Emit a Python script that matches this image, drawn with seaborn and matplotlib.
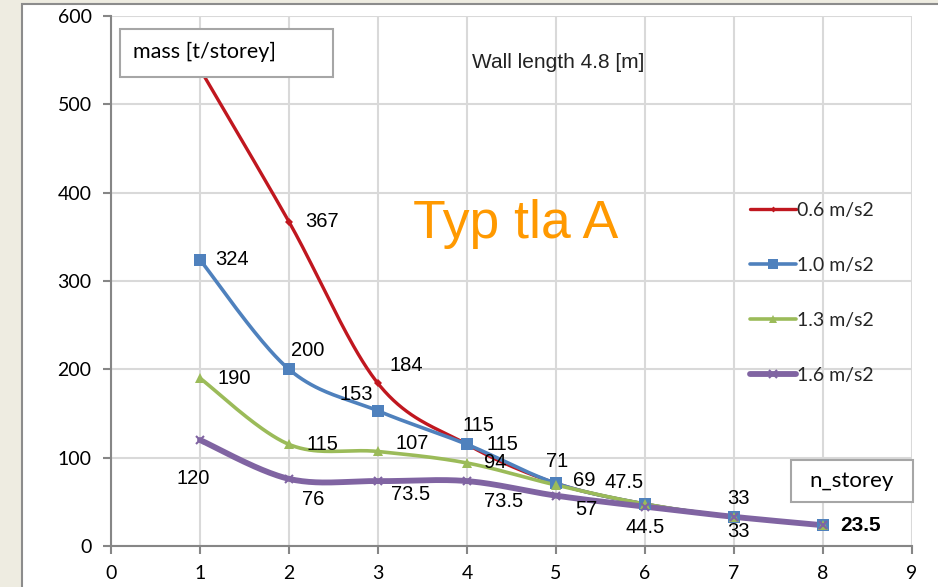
import numpy as np
import pandas as pd
import matplotlib
matplotlib.use("Agg")
import matplotlib.pyplot as plt
import seaborn as sns
from matplotlib.lines import Line2D
from matplotlib.patches import Rectangle

# ---------------- data ----------------
n_storey = [1, 2, 3, 4, 5, 6, 7, 8]
series_names = ["0.6 m/s2", "1.0 m/s2", "1.3 m/s2", "1.6 m/s2"]
mass_06 = [540, 367, 184, 115, 71, 47.5, 33, 23.5]
mass_10 = [324, 200, 153, 115, 71, 47.5, 33, 23.5]
mass_13 = [190, 115, 107, 94, 69, 47.5, 33, 23.5]
mass_16 = [120, 76, 73.5, 73.5, 57, 44.5, 33, 23.5]

# data labels: (point index, text)
labels_06 = [(1, "367"), (2, "184"), (3, "115")]
labels_10 = [(0, "324"), (1, "200"), (2, "153"), (3, "115"), (4, "71"),
             (5, "47.5"), (6, "33"), (7, "23.5")]
labels_13 = [(0, "190"), (1, "115"), (2, "107"), (3, "94"), (4, "69")]
labels_16 = [(0, "120"), (1, "76"), (2, "73.5"), (3, "73.5"), (4, "57"),
             (5, "44.5"), (6, "33")]

# label offsets in pixels (dx right, dy down)
off_06 = [(33, 0), (28, -18), (35, 0)]
off_10 = [(32, 0), (19, -19), (-22, -16), (11, -19), (1, -22), (-21, -22), (4, -18), (38, 0)]
off_13 = [(34, 0), (33, 0), (34, -8), (28, 0), (28, -5)]
off_16 = [(-7, 39), (24, 21), (33, 13), (37, 20), (30, 14), (0, 21), (4, 15)]

colors = ["#C0171F", "#4F81BD", "#9BBB59", "#8064A2"]
markers = ["D", "s", "^", "x"]
msizes = [4, 8, 7, 6]
lwidths = [2.4, 2.6, 2.6, 4.2]


def smooth(xs, ys, n=40):
    """Excel-like smoothed line (Bezier segments with 1/6 tangents)."""
    P = np.column_stack([xs, ys]).astype(float)
    out = []
    for i in range(len(P) - 1):
        p0 = P[i - 1] if i > 0 else P[i]
        p1 = P[i]
        p2 = P[i + 1]
        p3 = P[i + 2] if i + 2 < len(P) else P[i + 1]
        c1 = p1 + (p2 - p0) / 6.0
        c2 = p2 - (p3 - p1) / 6.0
        t = np.linspace(0, 1, n, endpoint=(i == len(P) - 2))[:, None]
        b = ((1 - t) ** 3) * p1 + 3 * ((1 - t) ** 2) * t * c1 + 3 * (1 - t) * t ** 2 * c2 + t ** 3 * p2
        out.append(b)
    out = np.vstack(out)
    return out[:, 0], out[:, 1]


W, H = 938, 587
DPI = 100
sns.set_theme(style="white")
plt.rcParams["font.family"] = ["Lato", "DejaVu Sans"]

fig = plt.figure(figsize=(W / DPI, H / DPI), dpi=DPI)
fig.patch.set_facecolor("#EEECE1")
# white chart area with grey frame
fig.patches.append(Rectangle((22 / W, -0.01), 1.0, 1 - 4 / H + 0.01, transform=fig.transFigure,
                             facecolor="white", edgecolor="#8C8C8C", linewidth=1.5, zorder=-5))

L, R, T, B = 111, 912, 16, 546
ax = fig.add_axes([L / W, 1 - B / H, (R - L) / W, (B - T) / H])
ax.set_zorder(1)
ax.set_facecolor("white")
ax.patch.set_alpha(0)
ax.set_xlim(0, 9)
ax.set_ylim(0, 600)
ax.set_xticks(range(0, 10))
ax.set_yticks(range(0, 700, 100))
ax.grid(True, color="#D9D9D9", linewidth=1.5)
ax.set_axisbelow(True)
for s in ["top", "right"]:
    ax.spines[s].set_visible(False)
for s in ["left", "bottom"]:
    ax.spines[s].set_color("#868686")
    ax.spines[s].set_linewidth(1.5)
ax.tick_params(axis="both", which="both", direction="out", length=6, width=1.5,
               color="#868686", labelsize=14, labelcolor="black", pad=8,
               left=True, bottom=True)

all_series = [mass_06, mass_10, mass_13, mass_16]
all_labels = [labels_06, labels_10, labels_13, labels_16]
all_offs = [off_06, off_10, off_13, off_16]

order = [3, 2, 1, 0]
for k in order:
    xs_s, ys_s = smooth(n_storey, all_series[k])
    df = pd.DataFrame({"x": xs_s, "y": ys_s})
    sns.lineplot(data=df, x="x", y="y", ax=ax, color=colors[k], linewidth=lwidths[k],
                 sort=False, estimator=None, zorder=3 + k * 0.1)
    dfp = pd.DataFrame({"x": n_storey, "y": all_series[k]})
    if markers[k] == "x":
        ax.plot(dfp["x"], dfp["y"], linestyle="none", marker="x", color=colors[k],
                markersize=msizes[k], markeredgewidth=1.5, zorder=4 + k * 0.1)
    else:
        ax.plot(dfp["x"], dfp["y"], linestyle="none", marker=markers[k], color=colors[k],
                markersize=msizes[k], markeredgewidth=0, zorder=4 + k * 0.1)
ax.set_xlabel("")
ax.set_ylabel("")

# data labels
px = 72 / DPI
for k in range(4):
    ys = all_series[k]
    for (i, txt), (dx, dy) in zip(all_labels[k], all_offs[k]):
        bold = (k == 1 and i == len(ys) - 1)
        ax.annotate(txt, (n_storey[i], ys[i]), xytext=(dx * px, -dy * px),
                    textcoords="offset points", ha="center", va="center",
                    fontsize=15 if bold else 14.5,
                    family=["Liberation Sans", "DejaVu Sans"],
                    fontweight="bold" if bold else "normal",
                    color="black", zorder=6)

# text boxes
def fig_box(x0, y0, x1, y1):
    fig.patches.append(Rectangle((x0 / W, 1 - y1 / H), (x1 - x0) / W, (y1 - y0) / H,
                                 transform=fig.transFigure, facecolor="white",
                                 edgecolor="#A6A6A6", linewidth=1.5, zorder=10))

fig_box(120, 29, 333, 77)
fig.text(133 / W, 1 - 52 / H, "mass [t/storey]", ha="left", va="center", fontsize=15.5,
         color="black", zorder=11)
fig_box(791, 460, 913, 502)
fig.text(852 / W, 1 - 481 / H, "n_storey", ha="center", va="center", fontsize=16,
         color="black", zorder=11)

fig.text(558 / W, 1 - 62 / H, "Wall length 4.8 [m]", ha="center", va="center",
         fontsize=15, family=["Liberation Sans", "DejaVu Sans"], color="#222222", zorder=11)
fig.text(516 / W, 1 - 224 / H, "Typ tla A", ha="center", va="center",
         fontsize=38.5, family=["Liberation Sans", "DejaVu Sans"], color="#FF9900", zorder=11)

# legend
handles = []
for k in range(4):
    if markers[k] == "x":
        h = Line2D([], [], color=colors[k], linewidth=lwidths[k], marker="x",
                   markersize=msizes[k], markeredgewidth=1.5)
    else:
        h = Line2D([], [], color=colors[k], linewidth=lwidths[k], marker=markers[k],
                   markersize=msizes[k] - 1, markeredgewidth=0)
    handles.append(h)
leg = ax.legend(handles, series_names, loc="upper left",
                bbox_to_anchor=((742 - L) / (R - L), (B - 194) / (B - T)),
                frameon=False, fontsize=14, handlelength=2.4, handletextpad=0.05,
                labelspacing=1.95, borderaxespad=0)
leg.set_zorder(12)

fig.savefig("out.png", dpi=DPI, facecolor=fig.get_facecolor())
